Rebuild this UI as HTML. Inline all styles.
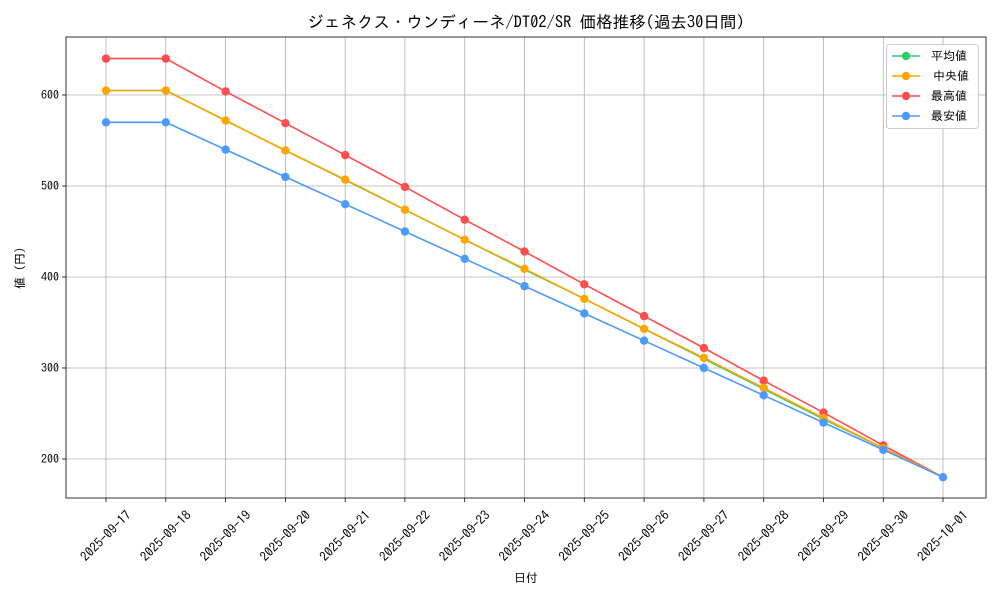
<!DOCTYPE html>
<html><head><meta charset="utf-8"><style>
body{margin:0;background:#fff}
svg{display:block;font-family:"IPAGothic","Noto Sans CJK JP","Liberation Sans",sans-serif}
</style></head><body>
<svg width="1000" height="600" viewBox="0 0 1000 600" xmlns="http://www.w3.org/2000/svg">
<rect width="1000" height="600" fill="#fff"/>
<text x="526" y="28" font-size="16.5" text-anchor="middle">ジェネクス・ウンディーネ/DT02/SR 価格推移(過去30日間)</text>
<g stroke="#b0b0b0" stroke-width="0.8">
<line x1="106" y1="37" x2="106" y2="498"/><line x1="165.8" y1="37" x2="165.8" y2="498"/><line x1="225.6" y1="37" x2="225.6" y2="498"/><line x1="285.4" y1="37" x2="285.4" y2="498"/><line x1="345.2" y1="37" x2="345.2" y2="498"/><line x1="404.9" y1="37" x2="404.9" y2="498"/><line x1="464.7" y1="37" x2="464.7" y2="498"/><line x1="524.5" y1="37" x2="524.5" y2="498"/><line x1="584.3" y1="37" x2="584.3" y2="498"/><line x1="644.1" y1="37" x2="644.1" y2="498"/><line x1="703.9" y1="37" x2="703.9" y2="498"/><line x1="763.7" y1="37" x2="763.7" y2="498"/><line x1="823.5" y1="37" x2="823.5" y2="498"/><line x1="883.3" y1="37" x2="883.3" y2="498"/><line x1="943" y1="37" x2="943" y2="498"/>
<line x1="66" y1="95" x2="986" y2="95"/><line x1="66" y1="186" x2="986" y2="186"/><line x1="66" y1="277" x2="986" y2="277"/><line x1="66" y1="368" x2="986" y2="368"/><line x1="66" y1="459" x2="986" y2="459"/>
</g>
<rect x="66" y="37" width="920" height="461" fill="none" stroke="#000" stroke-width="0.8"/>
<g stroke="#000" stroke-width="0.8">
<line x1="62" y1="95" x2="66" y2="95"/><line x1="62" y1="186" x2="66" y2="186"/><line x1="62" y1="277" x2="66" y2="277"/><line x1="62" y1="368" x2="66" y2="368"/><line x1="62" y1="459" x2="66" y2="459"/>
<line x1="106" y1="498" x2="106" y2="502"/><line x1="165.8" y1="498" x2="165.8" y2="502"/><line x1="225.6" y1="498" x2="225.6" y2="502"/><line x1="285.4" y1="498" x2="285.4" y2="502"/><line x1="345.2" y1="498" x2="345.2" y2="502"/><line x1="404.9" y1="498" x2="404.9" y2="502"/><line x1="464.7" y1="498" x2="464.7" y2="502"/><line x1="524.5" y1="498" x2="524.5" y2="502"/><line x1="584.3" y1="498" x2="584.3" y2="502"/><line x1="644.1" y1="498" x2="644.1" y2="502"/><line x1="703.9" y1="498" x2="703.9" y2="502"/><line x1="763.7" y1="498" x2="763.7" y2="502"/><line x1="823.5" y1="498" x2="823.5" y2="502"/><line x1="883.3" y1="498" x2="883.3" y2="502"/><line x1="943" y1="498" x2="943" y2="502"/>
</g>
<g font-size="12" text-anchor="end">
<text x="59" y="99">600</text><text x="59" y="190">500</text><text x="59" y="281">400</text><text x="59" y="372">300</text><text x="59" y="463">200</text>
</g>
<text transform="translate(24,268) rotate(-90)" font-size="12" text-anchor="middle">値 (円)</text>
<text x="526" y="582" font-size="12" text-anchor="middle">日付</text>
<g font-size="13" text-anchor="end">
<text transform="translate(132,516) rotate(-45)">2025-09-17</text>
<text transform="translate(191.8,516) rotate(-45)">2025-09-18</text>
<text transform="translate(251.6,516) rotate(-45)">2025-09-19</text>
<text transform="translate(311.4,516) rotate(-45)">2025-09-20</text>
<text transform="translate(371.2,516) rotate(-45)">2025-09-21</text>
<text transform="translate(430.9,516) rotate(-45)">2025-09-22</text>
<text transform="translate(490.7,516) rotate(-45)">2025-09-23</text>
<text transform="translate(550.5,516) rotate(-45)">2025-09-24</text>
<text transform="translate(610.3,516) rotate(-45)">2025-09-25</text>
<text transform="translate(670.1,516) rotate(-45)">2025-09-26</text>
<text transform="translate(729.9,516) rotate(-45)">2025-09-27</text>
<text transform="translate(789.7,516) rotate(-45)">2025-09-28</text>
<text transform="translate(849.5,516) rotate(-45)">2025-09-29</text>
<text transform="translate(909.3,516) rotate(-45)">2025-09-30</text>
<text transform="translate(969,516) rotate(-45)">2025-10-01</text>
</g>
<polyline fill="none" stroke="#2ecc71" stroke-width="1.6" points="106,90.5 165.8,90.5 225.6,120.5 285.4,150.5 345.2,180 404.9,209.7 464.7,239.7 524.5,269.5 584.3,298.8 644.1,328.9 703.9,358.8 763.7,389 823.5,419 883.3,448.1 943,477.2"/>
<polyline fill="none" stroke="#ff4d4d" stroke-width="1.6" points="106,58.6 165.8,58.6 225.6,91.4 285.4,123.2 345.2,155.1 404.9,186.9 464.7,219.7 524.5,251.5 584.3,284.3 644.1,316.1 703.9,348 763.7,380.7 823.5,412.6 883.3,445.4 943,477.2"/>
<g fill="#ff4d4d"><circle cx="106" cy="58.6" r="4.2"/><circle cx="165.8" cy="58.6" r="4.2"/><circle cx="225.6" cy="91.4" r="4.2"/><circle cx="285.4" cy="123.2" r="4.2"/><circle cx="345.2" cy="155.1" r="4.2"/><circle cx="404.9" cy="186.9" r="4.2"/><circle cx="464.7" cy="219.7" r="4.2"/><circle cx="524.5" cy="251.5" r="4.2"/><circle cx="584.3" cy="284.3" r="4.2"/><circle cx="644.1" cy="316.1" r="4.2"/><circle cx="703.9" cy="348" r="4.2"/><circle cx="763.7" cy="380.7" r="4.2"/><circle cx="823.5" cy="412.6" r="4.2"/><circle cx="883.3" cy="445.4" r="4.2"/></g>
<polyline fill="none" stroke="#ffa500" stroke-width="1.6" points="106,90.5 165.8,90.5 225.6,120.5 285.4,150.5 345.2,179.6 404.9,209.7 464.7,239.7 524.5,268.8 584.3,298.8 644.1,328.9 703.9,357.9 763.7,388 823.5,418 883.3,448.1 943,477.2"/>
<g fill="#ffa500"><circle cx="106" cy="90.5" r="4.2"/><circle cx="165.8" cy="90.5" r="4.2"/><circle cx="225.6" cy="120.5" r="4.2"/><circle cx="285.4" cy="150.5" r="4.2"/><circle cx="345.2" cy="179.6" r="4.2"/><circle cx="404.9" cy="209.7" r="4.2"/><circle cx="464.7" cy="239.7" r="4.2"/><circle cx="524.5" cy="268.8" r="4.2"/><circle cx="584.3" cy="298.8" r="4.2"/><circle cx="644.1" cy="328.9" r="4.2"/><circle cx="703.9" cy="357.9" r="4.2"/><circle cx="763.7" cy="388" r="4.2"/><circle cx="823.5" cy="418" r="4.2"/><circle cx="883.3" cy="448.1" r="4.2"/></g>
<polyline fill="none" stroke="#4d9aff" stroke-width="1.6" points="106,122.3 165.8,122.3 225.6,149.6 285.4,176.9 345.2,204.2 404.9,231.5 464.7,258.8 524.5,286.1 584.3,313.4 644.1,340.7 703.9,368 763.7,395.3 823.5,422.6 883.3,449.9 943,477.2"/>
<g fill="#4d9aff"><circle cx="106" cy="122.3" r="4.2"/><circle cx="165.8" cy="122.3" r="4.2"/><circle cx="225.6" cy="149.6" r="4.2"/><circle cx="285.4" cy="176.9" r="4.2"/><circle cx="345.2" cy="204.2" r="4.2"/><circle cx="404.9" cy="231.5" r="4.2"/><circle cx="464.7" cy="258.8" r="4.2"/><circle cx="524.5" cy="286.1" r="4.2"/><circle cx="584.3" cy="313.4" r="4.2"/><circle cx="644.1" cy="340.7" r="4.2"/><circle cx="703.9" cy="368" r="4.2"/><circle cx="763.7" cy="395.3" r="4.2"/><circle cx="823.5" cy="422.6" r="4.2"/><circle cx="883.3" cy="449.9" r="4.2"/><circle cx="943" cy="477.2" r="4.2"/></g>
<rect x="886.5" y="44.5" width="92" height="84" rx="3" fill="#fff" fill-opacity="0.8" stroke="#ccc"/>
<g stroke-width="1.6">
<line x1="892" y1="56" x2="920" y2="56" stroke="#2ecc71"/><circle cx="906" cy="56" r="4.2" fill="#2ecc71"/>
<line x1="892" y1="76" x2="920" y2="76" stroke="#ffa500"/><circle cx="906" cy="76" r="4.2" fill="#ffa500"/>
<line x1="892" y1="96" x2="920" y2="96" stroke="#ff4d4d"/><circle cx="906" cy="96" r="4.2" fill="#ff4d4d"/>
<line x1="892" y1="116" x2="920" y2="116" stroke="#4d9aff"/><circle cx="906" cy="116" r="4.2" fill="#4d9aff"/>
</g>
<g font-size="12">
<text x="931" y="60">平均値</text><text x="933" y="80">中央値</text><text x="931" y="100">最高値</text><text x="931" y="120">最安値</text>
</g>
</svg>
</body></html>
